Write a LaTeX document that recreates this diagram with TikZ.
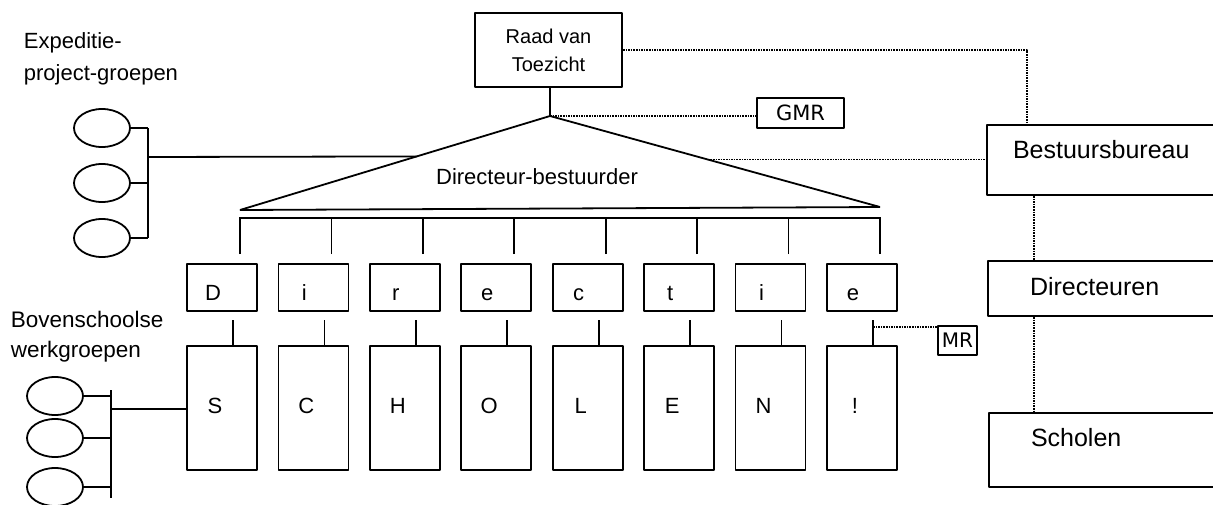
\documentclass[tikz,border=0pt]{standalone}
\usepackage{fontspec}
\setmainfont{Liberation Sans}
\newfontfamily\dvs{DejaVu Sans}
\usetikzlibrary{shapes.geometric,calc}
\begin{document}
\begin{tikzpicture}[x=1pt,y=-1pt, line width=1.8pt, line join=bevel,
 box/.style={draw, inner sep=0pt, line width=1.8pt},
 dots/.style={line width=1.7pt, dash pattern=on 1.6pt off 1pt},
 oval/.style={draw, ellipse, minimum width=56pt, minimum height=38pt, inner sep=0pt},
 lbl/.style={font=\fontsize{22}{30}\selectfont, inner sep=0pt},
 letter/.style={lbl, text height=16pt, text depth=0pt},
 big/.style={font=\fontsize{25}{30}\selectfont, inner sep=0pt, anchor=west}]
\useasboundingbox (0,0) rectangle (1213,504);
\clip (0,0) rectangle (1213,504);

% Raad van Toezicht and triangle
\node[box, minimum width=147pt, minimum height=74pt, align=center,
      font=\fontsize{20}{28}\selectfont] (raad) at (548.5,50) {Raad van\\Toezicht};
\coordinate (apex) at (550,116);
\coordinate (tl) at (240,210);
\coordinate (tr) at (880,207);
\draw (raad.south -| apex) -- (apex);
\draw (tl) -- (apex) -- (tr) -- cycle;
\node[lbl] (db) at (537,177) {Directeur-bestuurder};

% GMR
\node[box, line width=1.4pt, minimum width=87pt, minimum height=30pt,
      font=\dvs\fontsize{21}{24}\selectfont] (gmr) at (800.5,113) {GMR};
\draw[dots] (apex) -- (apex -| gmr.west);

% right column
\node[box, minimum width=253pt, minimum height=70pt] (bb) at (1113.5,160) {};
\node[big] (bbt) at ($(bb.west)+(26,-10)$) {Bestuursbureau};
\node[box, minimum width=253pt, minimum height=55pt] (dir) at (1114.5,288.5) {};
\node[big] (dirt) at ($(dir.west)+(42,-2)$) {Directeuren};
\node[box, minimum width=253pt, minimum height=74pt] (sch) at (1115.5,450) {};
\node[big] (scht) at ($(sch.west)+(42,-12)$) {Scholen};

\draw[dots] (raad.east) -| ($(bb.north west)+(41,0)$);
\draw[dots] ($(bb.south west)+(48,0)$) -- ($(dir.north west)+(47,0)$);
\draw[dots] ($(dir.south west)+(47,0)$) -- ($(sch.north west)+(46,0)$);
\coordinate (tre) at ($(apex)!0.478!(tr)$);
\draw[dots] (tre) -- (tre -| bb.west);

% bus
\coordinate (busl) at (240,218);
\coordinate (busr) at (881,218);
\draw (busl) -- (busr);

\foreach \i/\a/\b [evaluate=\i as \cx using {222+91.43*(\i-1)}] in
  {1/D/S, 2/i/C, 3/r/H, 4/e/O, 5/c/L, 6/t/E, 7/i/N, 8/e/!} {
  \node[box, minimum width=70pt, minimum height=47pt,
        label={[letter, xshift=-9pt, yshift=-4.5pt]center:\a}] (t\i) at (\cx,287.5) {};
  \node[box, minimum width=70pt, minimum height=124pt,
        label={[letter, xshift=-7pt, yshift=3pt]center:\b}] (b\i) at (\cx,408) {};
  \draw ($(t\i.north)+(18,-9)$) -- ($(t\i.north)+(18,-46)$);
  \draw ($(b\i.north)+(11,0)$) -- ($(b\i.north)+(11,-25)$);
}

% MR
\node[box, line width=1.4pt, minimum width=39pt, minimum height=29pt,
      font=\dvs\fontsize{20}{24}\selectfont] (mr) at (957.5,340.5) {MR};
\coordinate (mrc) at ($(b8.north)+(11,-18)$);
\draw[dots] (mrc) -- (mrc -| mr.west);

% Expeditie groups
\node[lbl, anchor=west, align=left, font=\fontsize{22}{32}\selectfont] (exp) at (23,59) {Expeditie-\\project-groepen};
\coordinate (eb) at (148,157);
\foreach \i/\y in {1/128,2/183,3/238} {
  \node[oval] (e\i) at (102,\y) {};
  \draw (e\i.east) -- (e\i.east -| eb);
}
\draw (e1.east -| eb) -- (e3.east -| eb);
\draw (eb) -- ($(apex)!0.43!(tl)$);

% Bovenschoolse groups
\node[lbl, anchor=west, align=left, font=\fontsize{22.5}{30}\selectfont] (bov) at (10,337) {Bovenschoolse\\werkgroepen};
\coordinate (wb) at (111,409);
\foreach \i/\y in {1/396,2/438,3/487} {
  \node[oval] (w\i) at (55,\y) {};
  \draw (w\i.east) -- (w\i.east -| wb);
}
\draw ($(w1.east -| wb)+(0,-6)$) -- ($(w3.east -| wb)+(0,11)$);
\draw (wb) -- (wb -| b1.west);
\end{tikzpicture}
\end{document}
